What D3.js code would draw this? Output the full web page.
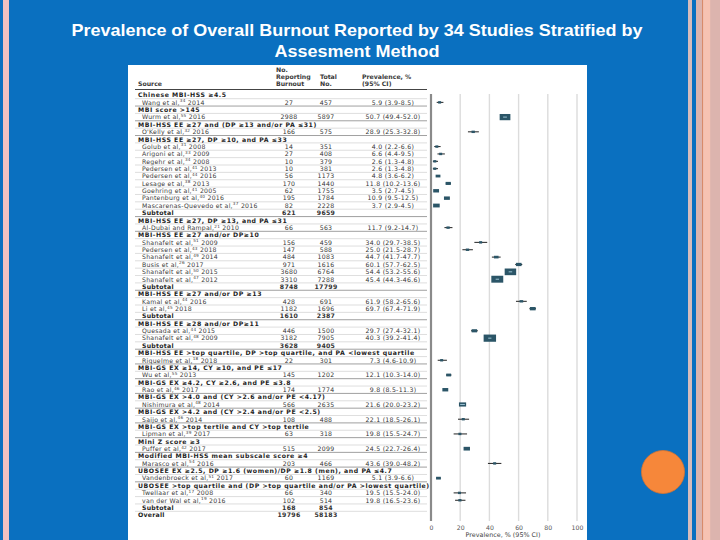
<!DOCTYPE html>
<html><head><meta charset="utf-8">
<script src="https://cdn.jsdelivr.net/npm/d3@7"></script>
<style>html,body{margin:0;padding:0;background:#0a70c0;}svg{display:block;}</style>
</head><body>
<script>
const titleLines = ["Prevalence of Overall Burnout Reported by 34 Studies Stratified by", "Assesment Method"];
const kinds = ["h","s","h","s","h","s","h","s","s","s","s","s","s","s","s","s","t","h","s","h","s","s","s","s","s","s","t","h","s","s","t","h","s","s","t","h","s","h","s","h","s","h","s","h","s","h","s","h","s","h","s","h","s","h","s","s","t","o"];
const names = ["Chinese MBI-HSS ≥4.5","Wang et al,","MBI score >145","Wurm et al,","MBI-HSS EE ≥27 and (DP ≥13 and/or PA ≤31)","O'Kelly et al,","MBI-HSS EE ≥27, DP ≥10, and PA ≤33","Golub et al,","Arigoni et al,","Regehr et al,","Pedersen et al,","Pedersen et al,","Lesage et al,","Goehring et al,","Pantenburg et al,","Mascarenas-Quevedo et al,","Subtotal","MBI-HSS EE ≥27, DP ≥13, and PA ≤31","Al-Dubai and Rampal,","MBI-HSS EE ≥27 and/or DP≥10","Shanafelt et al,","Pedersen et al,","Shanafelt et al,","Busis et al,","Shanafelt et al,","Shanafelt et al,","Subtotal","MBI-HSS EE ≥27 and/or DP ≥13","Kamal et al,","Li et al,","Subtotal","MBI-HSS EE ≥28 and/or DP≥11","Quesada et al,","Shanafelt et al,","Subtotal","MBI-HSS EE >top quartile, DP >top quartile, and PA <lowest quartile","Riquelme et al,","MBI-GS EX ≥14, CY ≥10, and PE ≤17","Wu et al,","MBI-GS EX ≥4.2, CY ≥2.6, and PE ≤3.8","Rao et al,","MBI-GS EX >4.0 and (CY >2.6 and/or PE <4.17)","Nishimura et al,","MBI-GS EX >4.2 and (CY >2.4 and/or PE <2.5)","Saijo et al,","MBI-GS EX >top tertile and CY >top tertile","Lipman et al,","Mini Z score ≥3","Puffer et al,","Modified MBI-HSS mean subscale score ≥4","Marasco et al,","UBOSEE EX ≥2.5, DP ≥1.6 (women)/DP ≥1.8 (men), and PA ≤4.7","Vandenbroeck et al,","UBOSEE >top quartile and (DP >top quartile and/or PA >lowest quartile)","Twellaar et al,","van der Wal et al,","Subtotal","Overall"];
const refs = ["","34","","55","","32","","31","33","34","41","44","38","41","40","37","","","21","","51","43","49","26","50","47","","","44","45","","","44","48","","","18","","55","","46","","48","","46","","39","","42","","54","","51","","17","19","",""];
const years = ["","2014","","2016","","2016","","2008","2009","2008","2013","2016","2013","2005","2016","2016","","","2010","","2009","2018","2014","2017","2015","2012","","","2016","2018","","","2015","2009","","","2018","","2013","","2017","","2014","","2014","","2017","","2017","","2016","","2017","","2008","2016","",""];
const burnout = [null,27,null,2988,null,166,null,14,27,10,10,56,170,62,195,82,621,null,66,null,156,147,484,971,3680,3310,8748,null,428,1182,1610,null,446,3182,3628,null,22,null,145,null,174,null,566,null,108,null,63,null,515,null,203,null,60,null,66,102,168,19796];
const totals = [null,457,null,5897,null,575,null,351,408,379,381,1173,1440,1755,1784,2228,9659,null,563,null,459,588,1083,1616,6764,7288,17799,null,691,1696,2387,null,1500,7905,9405,null,301,null,1202,null,1774,null,2635,null,488,null,318,null,2099,null,466,null,1169,null,340,514,854,58183];
const prev = [null,5.9,null,50.7,null,28.9,null,4.0,6.6,2.6,2.6,4.8,11.8,3.5,10.9,3.7,null,null,11.7,null,34.0,25.0,44.7,60.1,54.4,45.4,null,null,61.9,69.7,null,null,29.7,40.3,null,null,7.3,null,12.1,null,9.8,null,21.6,null,22.1,null,19.8,null,24.5,null,43.6,null,5.1,null,19.5,19.8,null,null];
const lo = [null,3.9,null,49.4,null,25.3,null,2.2,4.4,1.3,1.3,3.6,10.2,2.7,9.5,2.9,null,null,9.2,null,29.7,21.5,41.7,57.7,53.2,44.3,null,null,58.2,67.4,null,null,27.4,39.2,null,null,4.6,null,10.3,null,8.5,null,20.0,null,18.5,null,15.5,null,22.7,null,39.0,null,3.9,null,15.5,16.5,null,null];
const hi = [null,8.5,null,52.0,null,32.8,null,6.6,9.5,4.8,4.8,6.2,13.6,4.5,12.5,4.5,null,null,14.7,null,38.5,28.7,47.7,62.5,55.6,46.6,null,null,65.6,71.9,null,null,32.1,41.4,null,null,10.9,null,14.0,null,11.3,null,23.2,null,26.1,null,24.7,null,26.4,null,48.2,null,6.6,null,24.0,23.6,null,null];
const xTicks = [0,20,40,60,80,100];
const axisTitle = "Prevalence, % (95% CI)";

const W = 720, H = 540;
const svg = d3.select("body").append("svg").attr("width", W).attr("height", H);
const F = "'Liberation Sans', Arial, sans-serif";
const FT = "'DejaVu Sans', Verdana, sans-serif";
const FS = 6.2;

// slide background and decorations
svg.append("rect").attr("width", W).attr("height", H).attr("fill", "#0a70c0");
svg.append("rect").attr("x", 3).attr("y", 0).attr("width", 6).attr("height", H).attr("fill", "#f0c2c2");
svg.append("rect").attr("x", 688).attr("y", 0).attr("width", 4).attr("height", H).attr("fill", "#d6bcbc");
svg.append("rect").attr("x", 696).attr("y", 0).attr("width", 24).attr("height", H).attr("fill", "#dcb4ae");
svg.append("rect").attr("x", 702).attr("y", 0).attr("width", 1.2).attr("height", H).attr("fill", "#d88a6a");
svg.append("rect").attr("x", 703.2).attr("y", 0).attr("width", 7).attr("height", H).attr("fill", "#f6c2b2");
svg.append("circle").attr("cx", 663).attr("cy", 472).attr("r", 21.5).attr("fill", "#f6873a").attr("stroke", "#d9742f").attr("stroke-width", 0.8);

// title
titleLines.forEach((t, i) => {
  svg.append("text").attr("x", 357).attr("y", i === 0 ? 36 : 57).attr("text-anchor", "middle")
    .attr("fill", "#fff").attr("font-family", F).attr("font-weight", "bold").attr("font-size", 17)
    .attr("textLength", i === 0 ? 571 : 165).attr("lengthAdjust", "spacingAndGlyphs").text(t);
});

// white panel
svg.append("rect").attr("x", 128).attr("y", 65).attr("width", 459).attr("height", H - 65).attr("fill", "#fff");

const n = kinds.length;
const y = d3.scalePoint().domain(d3.range(n)).range([95, 515]);
const x = d3.scaleLinear().domain([0, 100]).range([431, 577]);
const size = d3.scaleSqrt().domain([0, 8000]).range([0, 12.5]);

const g = svg.append("g").attr("font-family", FT);

// header
const hdr = g.append("g").attr("font-weight", "bold").attr("font-size", FS).attr("fill", "#3a3a3a");
[["No.",276,72],["Reporting",276,79],["Burnout",276,86],["Total",320,79],["No.",320,86],["Prevalence, %",362,79],["(95% CI)",362,86],["Source",138,86]]
  .forEach(d => hdr.append("text").attr("x", d[1]).attr("y", d[2]).text(d[0]));
g.append("line").attr("x1", 135).attr("x2", 427).attr("y1", 89.5).attr("y2", 89.5).attr("stroke", "#444").attr("stroke-width", 1);

// separators
d3.range(n).forEach(i => {
  if (i === n - 1) return;
  const yy = (y(i) + y(i + 1)) / 2;
  const dark = kinds[i + 1] === "h";
  g.append("line").attr("x1", 135).attr("x2", 427).attr("y1", yy).attr("y2", yy)
    .attr("stroke", dark ? "#888" : "#c8c8c8").attr("stroke-width", dark ? 0.8 : 0.6);
});

// gridlines
xTicks.forEach(t => {
  g.append("line").attr("x1", x(t)).attr("x2", x(t)).attr("y1", 94).attr("y2", 521)
    .attr("stroke", t === 0 ? "#8a8a8a" : "#dcdcdc").attr("stroke-width", t === 0 ? 2.2 : 1.4);
});

// rows text
d3.range(n).forEach(i => {
  const k = kinds[i];
  const bold = k !== "s";
  const t = g.append("text").attr("y", y(i) + 2.3)
    .attr("font-size", FS)
    .attr("letter-spacing", k === "h" ? 0.55 : 0.25)
    .attr("fill", k === "s" ? "#3a3a3a" : "#1e1e1e")
    .attr("font-weight", bold ? "bold" : "normal")
    .attr("x", (k === "h" || k === "o") ? 138 : 142);
  t.append("tspan").text(names[i]);
  if (refs[i]) {
    t.append("tspan").attr("font-size", 4.2).attr("dy", -2.4).text(refs[i]);
    t.append("tspan").attr("dy", 2.4).text(" " + years[i]);
  }
  if (burnout[i] != null) {
    g.append("text").attr("x", 289).attr("y", y(i) + 2.3).attr("text-anchor", "middle").attr("font-size", FS)
      .attr("letter-spacing", 0.3)
      .attr("fill", "#333").attr("font-weight", bold ? "bold" : "normal").text(burnout[i]);
    g.append("text").attr("x", 326).attr("y", y(i) + 2.3).attr("text-anchor", "middle").attr("font-size", FS)
      .attr("letter-spacing", 0.3)
      .attr("fill", "#333").attr("font-weight", bold ? "bold" : "normal").text(totals[i]);
  }
  if (prev[i] != null) {
    g.append("text").attr("x", 393).attr("y", y(i) + 2.3).attr("text-anchor", "middle").attr("font-size", FS)
      .attr("letter-spacing", 0.3)
      .attr("fill", "#333").text(`${prev[i].toFixed(1)} (${lo[i].toFixed(1)}-${hi[i].toFixed(1)})`);
    // CI and marker
    g.append("line").attr("x1", x(lo[i])).attr("x2", x(hi[i])).attr("y1", y(i)).attr("y2", y(i))
      .attr("stroke", "#222").attr("stroke-width", 1);
    const w = Math.max(3, size(totals[i]));
    const h = Math.max(2.4, w * 0.58);
    g.append("rect").attr("x", x(prev[i]) - w / 2).attr("y", y(i) - h / 2).attr("width", w).attr("height", h)
      .attr("fill", "#2b5567");
    const a = Math.max(x(lo[i]), x(prev[i]) - w / 2), b = Math.min(x(hi[i]), x(prev[i]) + w / 2);
    if (w > 7) g.append("line").attr("x1", a).attr("x2", b).attr("y1", y(i)).attr("y2", y(i))
      .attr("stroke", "#9cc3d3").attr("stroke-width", 1);
  }
});

// axis
const ax = g.append("g").attr("transform", "translate(0,521)")
  .call(d3.axisBottom(x).tickValues(xTicks).tickSize(0).tickPadding(5));
ax.select(".domain").remove();
ax.selectAll("text").attr("font-size", 6.2).attr("fill", "#555").attr("font-family", FT);
g.append("text").attr("x", 503).attr("y", 537).attr("text-anchor", "middle").attr("font-size", 6.4)
  .attr("fill", "#444").text(axisTitle);
</script>
</body></html>
